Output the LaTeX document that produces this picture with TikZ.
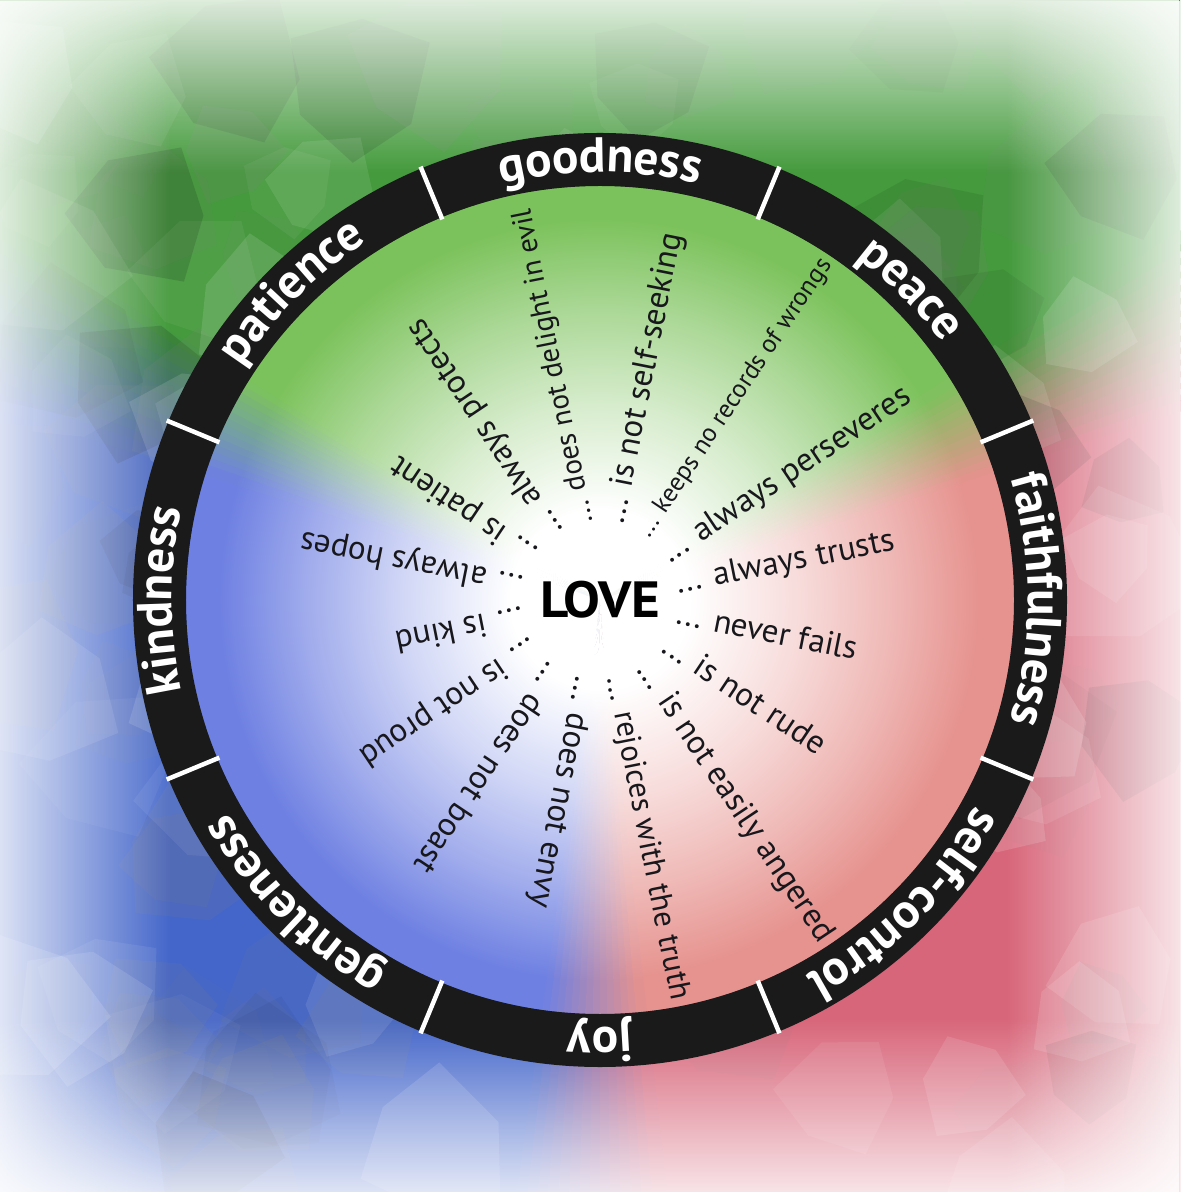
\documentclass[tikz,border=0pt]{standalone}
\usepackage{fontspec}
\setmainfont{PT Sans}
\newfontfamily\lovefont[FakeStretch=1.08]{PT Sans}
\usetikzlibrary{decorations.text, fadings}

% colours
\definecolor{bggreen}{HTML}{449A3C}
\definecolor{bgblue}{HTML}{4466CA}
\definecolor{bgred}{HTML}{D8667A}
\definecolor{ingreen}{HTML}{7CC25C}
\definecolor{inblue}{HTML}{6E80E2}
\definecolor{inred}{HTML}{E6928E}
\definecolor{ringblack}{HTML}{1A1A1A}
\definecolor{phrasecol}{HTML}{17171C}
\colorlet{wc}{white}

% white centre fading out into the sector colour (25bp = disc edge)
\pgfdeclareradialshading[wc]{innerglow}{\pgfpointorigin}{color(0bp)=(white); color(5.4bp)=(white); color(12bp)=(wc!32!white); color(17.5bp)=(wc!64!white); color(23bp)=(wc); color(50bp)=(wc)}

\tikzfading[name=fadeleft, left color=transparent!0, right color=transparent!100]
\tikzfading[name=faderight, left color=transparent!100, right color=transparent!0]
\tikzfading[name=fadetop, top color=transparent!0, bottom color=transparent!100]
\tikzfading[name=fadebottom, top color=transparent!100, bottom color=transparent!0]

\pgfmathdeclarerandomlist{tint}{{white}{white}{black}{gray}{gray}}

\newcommand{\fruitfont}{\fontsize{14}{16}\selectfont\bfseries}

% sector helpers
\newcommand{\bgwedge}[3]{\fill[#3] (0,0) -- ({#1}:900) arc[start angle=#1, end angle=#2, radius=900] -- cycle;}
\newcommand{\inwedge}[3]{\begin{scope}\colorlet{wc}{#3}\clip (0,0) -- ({#1}:420) arc[start angle=#1, end angle=#2, radius=420] -- cycle;\shade[shading=innerglow] (0,0) circle (414);\end{scope}}
\newcommand{\bgblend}[4]{\foreach \s in {0,...,13}{%
  \pgfmathsetmacro{\pa}{#1+(#2-#1)*\s/14}%
  \pgfmathsetmacro{\pb}{#1+(#2-#1)*(\s+1.5)/14}%
  \pgfmathsetmacro{\mix}{(\s+0.5)*100/14}%
  \bgwedge{\pa}{\pb}{#4!\mix!#3}}}
\newcommand{\inblend}[4]{\foreach \s in {0,...,13}{%
  \pgfmathsetmacro{\pa}{#1+(#2-#1)*\s/14}%
  \pgfmathsetmacro{\pb}{#1+(#2-#1)*(\s+1.5)/14}%
  \pgfmathsetmacro{\mix}{(\s+0.5)*100/14}%
  \inwedge{\pa}{\pb}{#4!\mix!#3}}}
\newcommand{\fruitlabel}[2]{\path[decorate, decoration={text along path, text align=center, text color=white, text={|\fruitfont|#2}}] ({#1+22.5}:428) arc[start angle=#1+22.5, end angle=#1-22.5, radius=428];}

\tikzset{
  phrase/.style={anchor=mid west, inner sep=0pt, text=phrasecol, font=\fontsize{9.4}{11}\selectfont},
  love/.style={inner sep=0pt, font=\fontsize{14.5}{17}\lovefont\bfseries},
  divider/.style={white, line width=0.45mm},
}

\begin{document}
\begin{tikzpicture}[x=0.1mm, y=0.1mm]

	\path[use as bounding box, clip] (-600,-592) rectangle (580,600);

	% Background sectors
	\bgwedge{275}{379}{bgred}
	\bgwedge{31}{149}{bggreen}
	\bgwedge{161}{263}{bgblue}
	\bgblend{18}{32}{bgred}{bggreen}
	\bgblend{148}{162}{bggreen}{bgblue}
	\bgblend{262}{276}{bgblue}{bgred}

	% Mosaic cells
	\pgfmathsetseed{4}
	\foreach \i in {1,...,170}{
		\pgfmathsetmacro{\cx}{-600+1180*rnd}
		\pgfmathsetmacro{\cy}{-592+1192*rnd}
		\pgfmathsetmacro{\cs}{45+45*rnd}
		\pgfmathsetmacro{\cr}{360*rnd}
		\pgfmathsetmacro{\co}{0.04+0.11*rnd}
		\pgfmathrandomitem{\ct}{tint}
		\fill[\ct, fill opacity=\co, shift={(\cx,\cy)}, rotate=\cr] (0:\cs) -- (55:{0.8*\cs}) -- (125:{0.95*\cs}) -- (185:{0.75*\cs}) -- (245:\cs) -- (305:{0.85*\cs}) -- cycle;
	}

	% Faded border
	\fill[white, path fading=fadeleft] (-640,-592) rectangle (-430,600);
	\fill[white, path fading=faderight] (407,-592) rectangle (617,600);
	\fill[white, path fading=fadetop] (-600,427) rectangle (580,637);
	\fill[white, path fading=fadebottom] (-600,-629) rectangle (580,-419);

	% Inner disc
	\inwedge{275}{379}{inred}
	\inwedge{31}{149}{ingreen}
	\inwedge{161}{263}{inblue}
	\inblend{18}{32}{inred}{ingreen}
	\inblend{148}{162}{ingreen}{inblue}
	\inblend{262}{276}{inblue}{inred}

	% Ring
	\fill[ringblack, even odd rule] (0,0) circle (467) (0,0) circle (414);
	\foreach \a in {22.5,67.5,...,337.5}
		\draw[divider] (\a:412) -- (\a:469);

	% Fruits
	\fruitlabel{90}{goodness}
	\fruitlabel{45}{peace}
	\fruitlabel{0}{faithfulness}
	\fruitlabel{-45}{self-control}
	\fruitlabel{-90}{joy}
	\fruitlabel{-135}{gentleness}
	\fruitlabel{180}{kindness}
	\fruitlabel{135}{patience}

	% Love
	\node[love] (love) at (0,0) {LOVE};

	\foreach \ang/\txt/\sz [count=\i] in {
		11.25/always trusts/1,
		33.75/always perseveres/1,
		56.25/keeps no records of wrongs/0.78,
		78.75/is not self-seeking/1,
		101.25/does not delight in evil/0.88,
		123.75/always protects/1,
		146.25/is patient/1,
		168.75/always hopes/1,
		191.25/is kind/1,
		213.75/is not proud/1,
		236.25/does not boast/1,
		258.75/does not envy/1,
		281.25/rejoices with the truth/0.94,
		303.75/is not easily angered/1,
		326.25/is not rude/1,
		348.75/never fails/1}
		\node[phrase, rotate=\ang, scale=\sz] (ph\i) at (\ang:78) {... \txt};

\end{tikzpicture}
\end{document}
